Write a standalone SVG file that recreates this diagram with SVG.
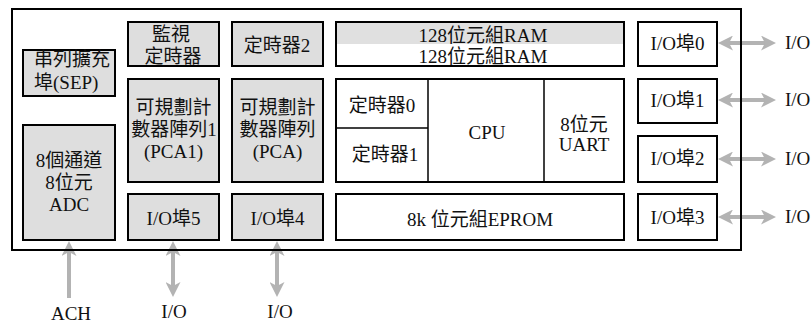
<svg xmlns="http://www.w3.org/2000/svg" width="812" height="325" viewBox="0 0 812 325">
  <style>
    .g { fill: #dedede; stroke: #000; stroke-width: 2; }
    .w { fill: #fff; stroke: #000; stroke-width: 2; }
    .div { stroke: #000; stroke-width: 1.5; fill: none; }
    text { font-family: "Liberation Serif", "Noto Sans CJK TC", serif; font-size: 19px; text-anchor: middle; fill: #111; }
    .lbl { font-size: 19px; }
    .st { text-anchor: start; }
    .arr { stroke: #b3b3b3; stroke-width: 4; fill: none; }
  </style>
  <defs>
    <marker id="head" viewBox="0 0 15 15" refX="4" refY="7.5" markerWidth="15" markerHeight="15" markerUnits="userSpaceOnUse" orient="auto-start-reverse">
      <path d="M0,0 L15,7.5 L0,15 L4,7.5 Z" fill="#b3b3b3"/>
    </marker>
  </defs>

  <rect fill="#fff" width="812" height="325"/>

  <!-- connectors -->
  <g id="connectors">
    <line class="arr" x1="729" y1="43" x2="765" y2="43" marker-start="url(#head)" marker-end="url(#head)"/>
    <line class="arr" x1="729" y1="100" x2="765" y2="100" marker-start="url(#head)" marker-end="url(#head)"/>
    <line class="arr" x1="729" y1="159" x2="765" y2="159" marker-start="url(#head)" marker-end="url(#head)"/>
    <line class="arr" x1="729" y1="217" x2="765" y2="217" marker-start="url(#head)" marker-end="url(#head)"/>
    <line class="arr" x1="69" y1="298" x2="69" y2="252" marker-end="url(#head)"/>
    <line class="arr" x1="173" y1="252" x2="173" y2="286" marker-start="url(#head)" marker-end="url(#head)"/>
    <line class="arr" x1="277" y1="252" x2="277" y2="286" marker-start="url(#head)" marker-end="url(#head)"/>
  </g>

  <!-- chip outline -->
  <rect id="chip" x="12" y="9" width="729" height="241" fill="none" stroke="#000" stroke-width="2"/>

  <g id="sep">
    <rect class="g" x="23" y="50" width="92" height="46"/>
    <text class="st" x="34" y="66">串列擴充</text>
    <text class="st" x="34" y="89">埠(SEP)</text>
  </g>

  <g id="adc">
    <rect class="g" x="23" y="125" width="92" height="115"/>
    <text x="69" y="167">8個通道</text>
    <text x="69" y="189">8位元</text>
    <text x="69" y="211">ADC</text>
  </g>

  <g id="watchdog">
    <rect class="g" x="128" y="22" width="91" height="44"/>
    <text x="171" y="41">監視</text>
    <text x="173" y="63">定時器</text>
  </g>

  <g id="timer2">
    <rect class="g" x="232" y="22" width="91" height="44"/>
    <text x="277" y="52">定時器2</text>
  </g>

  <g id="pca1">
    <rect class="g" x="128" y="79" width="91" height="103"/>
    <text x="173.5" y="114">可規劃計</text>
    <text x="174" y="136">數器陣列1</text>
    <text x="173.5" y="158">(PCA1)</text>
  </g>

  <g id="pca">
    <rect class="g" x="232" y="79" width="91" height="103"/>
    <text x="277.5" y="114">可規劃計</text>
    <text x="277.5" y="136">數器陣列</text>
    <text x="277.5" y="158">(PCA)</text>
  </g>

  <g id="port5">
    <rect class="g" x="128" y="194" width="91" height="46"/>
    <text x="173.5" y="225">I/O埠5</text>
  </g>

  <g id="port4">
    <rect class="g" x="232" y="194" width="91" height="46"/>
    <text x="277.5" y="225">I/O埠4</text>
  </g>

  <g id="ram">
    <rect class="w" x="336" y="22" width="288" height="44"/>
    <rect x="337" y="23" width="286" height="21" fill="#e0e0e0"/>
    <text x="483" y="42">128位元組RAM</text>
    <text x="483" y="63">128位元組RAM</text>
  </g>

  <g id="core">
    <rect class="w" x="336" y="79" width="288" height="103"/>
    <line class="div" x1="428" y1="79" x2="428" y2="182"/>
    <line class="div" x1="544" y1="79" x2="544" y2="182"/>
    <line class="div" x1="336" y1="128" x2="428" y2="128"/>
    <text x="382" y="112">定時器0</text>
    <text x="385" y="161">定時器1</text>
    <text x="487" y="139">CPU</text>
    <text x="584" y="131">8位元</text>
    <text x="584" y="151">UART</text>
  </g>

  <g id="eprom">
    <rect class="w" x="336" y="194" width="288" height="46"/>
    <text x="480" y="226">8k 位元組EPROM</text>
  </g>

  <g id="port0">
    <rect class="w" x="638" y="22" width="79" height="44"/>
    <text x="677.5" y="50">I/O埠0</text>
  </g>
  <g id="port1">
    <rect class="w" x="638" y="79" width="79" height="44"/>
    <text x="677.5" y="107">I/O埠1</text>
  </g>
  <g id="port2">
    <rect class="w" x="638" y="136" width="79" height="46"/>
    <text x="677.5" y="165">I/O埠2</text>
  </g>
  <g id="port3">
    <rect class="w" x="638" y="194" width="79" height="46"/>
    <text x="677.5" y="224">I/O埠3</text>
  </g>

  <!-- external pin labels -->
  <g id="labels">
    <text class="lbl st" x="785" y="49">I/O</text>
    <text class="lbl st" x="785" y="106">I/O</text>
    <text class="lbl st" x="785" y="165">I/O</text>
    <text class="lbl st" x="785" y="223">I/O</text>
    <text class="lbl" x="71" y="320">ACH</text>
    <text class="lbl" x="174" y="318">I/O</text>
    <text class="lbl" x="280" y="318">I/O</text>
  </g>
</svg>
